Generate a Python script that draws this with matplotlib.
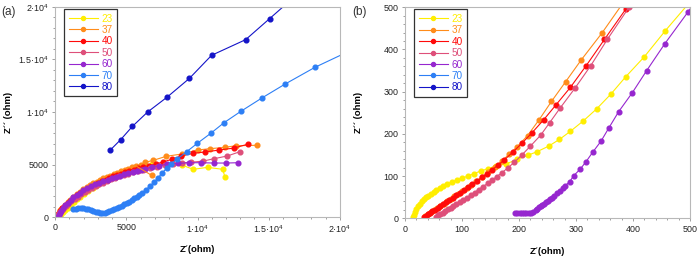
import matplotlib
matplotlib.use("Agg")
import matplotlib.pyplot as plt
from matplotlib.ticker import MultipleLocator, FixedLocator, FixedFormatter

plt.rcParams['font.family'] = ['Liberation Sans', 'DejaVu Sans']
plt.rcParams['mathtext.fontset'] = 'custom'
plt.rcParams['mathtext.rm'] = 'Liberation Sans'

# ---------------- data ----------------
labels = ["23", "37", "40", "50", "60", "70", "80"]
colors = ["#FFEE00", "#FF8C1A", "#FF0A0A", "#DE4F7A", "#9626CF", "#2D7FF5", "#1414C8"]

# Panel (a)
x23a = [14, 20, 30, 45, 70, 100, 130, 180, 250, 340, 450, 580, 730, 900, 1090, 1300, 1530, 1780, 2050, 2340,
        2650, 2980, 3330, 3700, 4090, 4500, 4930, 5380, 5850, 6330, 6780, 7800, 8890, 9710, 10710, 11770, 11930]
y23a = [2, 21, 45, 62, 81, 95, 110, 128, 155, 220, 330, 480, 680, 900, 1140, 1400, 1670, 1950, 2230, 2500,
        2780, 3050, 3310, 3560, 3800, 4030, 4240, 4440, 4620, 4800, 5080, 5000, 4950, 4540, 4730, 4540, 3780]

x37a = [30, 60, 100, 160, 250, 370, 520, 690, 880, 1080, 1290, 1520, 1750, 1990, 2230, 2460, 2700, 2920, 3150,
        3390, 3620, 3860, 4110, 4370, 4640, 4910, 5150, 5400, 5700, 6000, 6300, 6900, 7800, 8900, 10000,
        10900, 11900, 12700, 14200]
y37a = [20, 60, 110, 230, 420, 650, 900, 1150, 1400, 1640, 1900, 2190, 2420, 2630, 2850, 3050, 3220, 3360, 3520,
        3680, 3810, 3940, 4080, 4220, 4350, 4480, 4600, 4730, 4850, 4960, 5200, 5400, 5780, 6000, 6380,
        6510, 6630, 6790, 6830]
x37a_branch = [5700, 6780]
y37a_branch = [4850, 3970]

x40a = [30, 60, 100, 160, 250, 370, 520, 690, 880, 1080, 1300, 1540, 1780, 2030, 2280, 2530, 2780, 3030, 3290,
        3550, 3810, 4080, 4350, 4630, 4920, 5210, 5520, 5850, 6200, 6600, 7100, 7600, 8200, 8840, 9660,
        10530, 11530, 12580, 13570]
y40a = [15, 50, 100, 210, 390, 610, 850, 1090, 1330, 1560, 1800, 2050, 2280, 2500, 2700, 2900, 3080, 3250, 3410,
        3570, 3720, 3860, 4000, 4140, 4270, 4400, 4520, 4640, 4760, 4900, 5060, 5250, 5500, 5810, 6060,
        6190, 6380, 6570, 6950]

x50a = [55, 90, 140, 210, 310, 430, 580, 750, 940, 1150, 1370, 1600, 1840, 2090, 2340, 2600, 2860, 3120, 3390,
        3660, 3940, 4220, 4510, 4810, 5120, 5450, 5800, 6200, 6650, 7150, 7700, 8300, 8900, 9520, 10410,
        11180, 12090, 12980]
y50a = [5, 40, 90, 190, 360, 570, 800, 1030, 1260, 1490, 1720, 1950, 2170, 2380, 2580, 2770, 2950, 3120, 3280,
        3430, 3580, 3720, 3860, 3990, 4120, 4250, 4380, 4520, 4660, 4800, 4940, 5060, 5150, 5210, 5330,
        5560, 5810, 6220]

x60a = [195, 210, 225, 260, 320, 420, 560, 720, 900, 1100, 1290, 1520, 1750, 1990, 2220, 2510, 2810, 3100, 3390,
        3690, 3980, 4270, 4560, 4860, 5150, 5440, 5730, 6030, 6320, 6780, 7300, 7840, 8650, 9400, 10220,
        11180, 12000, 12860]
y60a = [10, 15, 40, 150, 340, 600, 880, 1150, 1380, 1620, 1870, 2100, 2320, 2530, 2730, 2920, 3110, 3270, 3430,
        3560, 3680, 3810, 3940, 4050, 4160, 4270, 4380, 4480, 4570, 4760, 4900, 5020, 5110, 5170, 5170,
        5140, 5140, 5170]

x70a = [1290, 1460, 1640, 1810, 1990, 2170, 2340, 2520, 2690, 2870, 3040, 3180, 3320, 3480, 3630, 3800, 3980,
        4150, 4330, 4500, 4680, 4850, 5030, 5200, 5380, 5560, 5730, 5900, 6080, 6360, 6670, 6970, 7250,
        7530, 7840, 8120, 8540, 9240, 9990, 10930, 11860, 13050, 14550, 16160, 18250, 20500]
y70a = [760, 800, 830, 840, 830, 790, 740, 660, 570, 500, 440, 400, 380, 420, 480, 570, 670, 760, 860, 970,
        1080, 1200, 1330, 1470, 1620, 1780, 1940, 2090, 2250, 2570, 2950, 3330, 3750, 4220, 4640, 5050,
        5490, 6220, 7020, 7970, 8980, 10070, 11360, 12670, 14260, 15700]

x80a = [3860, 4610, 5430, 6500, 7880, 9430, 10990, 13380, 15060, 16830]
y80a = [6350, 7370, 8630, 10000, 11430, 13200, 15400, 16890, 18890, 21000]

# Panel (b)
x23b = [14, 15.5, 17.5, 20, 23, 26, 29.5, 33, 37, 41, 45, 50, 55, 61, 67, 74, 82, 91, 100, 110, 121, 133,
        146, 160, 178, 197, 215, 232, 252, 271, 290, 313, 336, 361, 387, 420, 457, 497]
y23b = [2, 8, 14, 21, 28, 34, 40, 45, 50, 54, 58, 62, 66, 71, 76, 81, 86, 91, 95, 100, 106, 112,
        118, 124, 129, 140, 149, 158, 171, 187, 206, 231, 259, 294, 335, 383, 445, 508]

x37b = [35, 40, 45, 50, 56, 62, 68, 74, 80, 86, 93, 100, 108, 116, 125, 135, 146, 158, 170, 183, 197,
        215, 235, 257, 282, 309, 345, 385]
y37b = [5, 10, 14, 19, 24, 30, 35, 41, 46, 52, 58, 65, 72, 80, 88, 98, 109, 122, 136, 152, 170,
        196, 233, 277, 324, 375, 438, 515]

x40b = [33, 36, 40, 44, 48, 52, 57, 62, 67, 72, 78, 84, 90, 96, 103, 110, 118, 126, 135, 144, 153, 163,
        174, 190, 206, 223, 243, 265, 290, 318, 350, 387]
y40b = [3, 6, 9, 13, 17, 20, 25, 29, 34, 38, 44, 49, 55, 60, 67, 73, 81, 88, 97, 106, 115, 126,
        138, 158, 179, 203, 233, 269, 310, 362, 424, 495]

x50b = [55, 58, 62, 66, 70, 75, 80, 85, 90, 96, 102, 108, 115, 122, 129, 137, 145, 153, 161, 170, 180,
        192, 205, 220, 238, 254, 272, 298, 326, 355, 393]
y50b = [4, 7, 10, 13, 17, 21, 25, 29, 33, 38, 44, 49, 55, 61, 68, 75, 83, 91, 99, 108, 119,
        133, 150, 171, 197, 227, 261, 308, 362, 424, 500]

x60b = [193, 197, 201, 205, 209, 213, 217, 221, 225, 229, 232, 235, 238, 241, 244, 248, 251, 254, 258, 262,
        267, 272, 277, 281, 289, 296, 307, 317, 329, 344, 358, 375, 399, 424, 456, 496, 510]
y60b = [12, 12, 12, 12, 12, 12, 12, 12, 15, 19, 22, 26, 29, 32, 35, 38, 42, 45, 49, 53,
        59, 65, 71, 77, 87, 101, 116, 133, 156, 183, 215, 253, 298, 350, 414, 488, 515]

series_a = [(x23a, y23a), (x37a, y37a), (x40a, y40a), (x50a, y50a), (x60a, y60a), (x70a, y70a), (x80a, y80a)]
series_b = [(x23b, y23b), (x37b, y37b), (x40b, y40b), (x50b, y50b), (x60b, y60b), ([], []), ([], [])]

# ---------------- figure ----------------
fig = plt.figure(figsize=(7.0, 2.57), dpi=100)
axa = fig.add_axes([0.0786, 0.1556, 0.4071, 0.8172])
axb = fig.add_axes([0.5786, 0.1506, 0.4071, 0.8210])

FS = 6.4
frame_col = "#B8B8B8"
MS = 3.4


def style(ax, lim, minor, ticks, ticklabels):
    ax.set_xlim(0, lim)
    ax.set_ylim(0, lim)
    for s in ax.spines.values():
        s.set_color(frame_col)
        s.set_linewidth(0.8)
    ax.xaxis.set_major_locator(FixedLocator(ticks))
    ax.yaxis.set_major_locator(FixedLocator(ticks))
    ax.xaxis.set_major_formatter(FixedFormatter(ticklabels))
    ax.yaxis.set_major_formatter(FixedFormatter(ticklabels))
    ax.xaxis.set_minor_locator(MultipleLocator(minor))
    ax.yaxis.set_minor_locator(MultipleLocator(minor))
    ax.tick_params(which="both", direction="out", color="#909090", width=0.6,
                   labelsize=FS, labelcolor="#222222", pad=2)
    ax.tick_params(which="major", length=2.5)
    ax.tick_params(which="minor", length=1.5)
    ax.set_xlabel("Z´(ohm)", fontsize=6.8, fontweight="bold")
    ax.set_ylabel("Z´´ (ohm)", fontsize=6.8, fontweight="bold")
    ax.xaxis.set_label_coords(0.5, -0.135)
    ax.yaxis.set_label_coords(-0.148, 0.5)


def draw(ax, series, extra=None):
    handles = []
    for (x, y), lab, c in zip(series, labels, colors):
        h, = ax.plot(x, y, "-o", color=c, ms=MS, lw=0.8, mec=c, label=lab, clip_on=True)
        handles.append(h)
    if extra is not None:
        x, y, c = extra
        ax.plot(x, y, "-o", color=c, ms=MS, lw=0.8, mec=c, markevery=[len(x) - 1])
    leg = ax.legend(handles=handles, loc="upper left", bbox_to_anchor=(0.032, 0.99),
                    fontsize=7.2, frameon=True, fancybox=False, borderaxespad=0,
                    handlelength=2.9, handletextpad=0.4, labelspacing=0.14,
                    borderpad=0.45, markerscale=0.85)
    leg.get_frame().set_edgecolor("black")
    leg.get_frame().set_linewidth(0.9)
    for t, c in zip(leg.get_texts(), colors):
        t.set_color(c)


draw(axa, series_a, extra=(x37a_branch, y37a_branch, colors[1]))
draw(axb, series_b)

style(axa, 20000, 1000, [0, 5000, 10000, 15000, 20000],
      ["0", "5000", r"1·10$^4$", r"1.5·10$^4$", r"2·10$^4$"])
style(axb, 500, 20, [0, 100, 200, 300, 400, 500],
      ["0", "100", "200", "300", "400", "500"])

fig.text(0.002, 0.955, "(a)", fontsize=8.5, color="#333333", va="center")
fig.text(0.503, 0.955, "(b)", fontsize=8.5, color="#333333", va="center")

fig.savefig("out.png", dpi=100)
